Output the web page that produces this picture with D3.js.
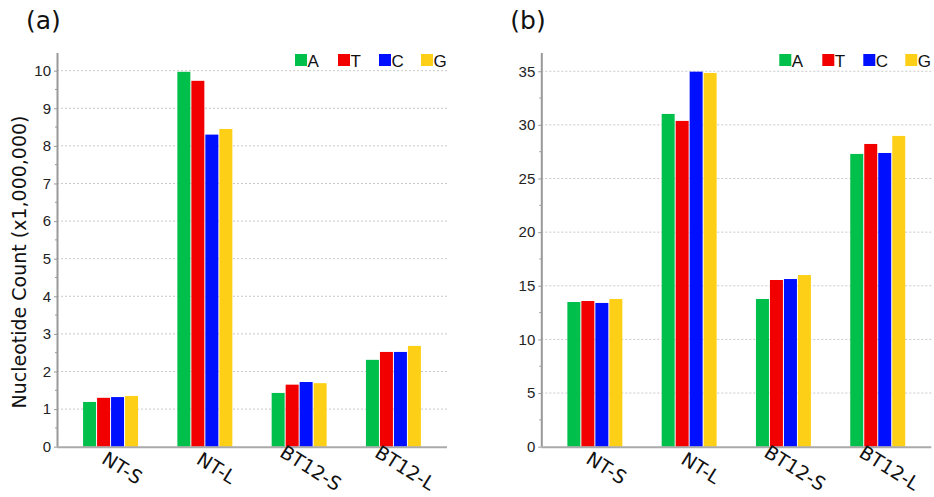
<!DOCTYPE html>
<html><head><meta charset="utf-8">
<script src="https://cdn.jsdelivr.net/npm/d3@7"></script>
<style>body{margin:0;background:#fff}</style>
</head><body>
<svg id="c" width="934" height="497"></svg>
<script>
const categories = ["NT-S", "NT-L", "BT12-S", "BT12-L"];
const nucleotides = ["A", "T", "C", "G"];
const colors = ["#00bf4b", "#f20000", "#0010ff", "#fdd017"];
// panel (a): counts x1,000,000
const aValsA = [1.19, 9.97, 1.43, 2.31];
const aValsT = [1.30, 9.73, 1.65, 2.52];
const aValsC = [1.32, 8.30, 1.72, 2.52];
const aValsG = [1.35, 8.45, 1.69, 2.68];
const aTicks = [0,1,2,3,4,5,6,7,8,9,10];
// panel (b)
const bValsA = [13.49, 31.02, 13.77, 27.29];
const bValsT = [13.58, 30.37, 15.54, 28.22];
const bValsC = [13.40, 34.96, 15.63, 27.38];
const bValsG = [13.77, 34.84, 16.00, 28.97];
const bTicks = [0,5,10,15,20,25,30,35];
const panelLabels = ["(a)", "(b)"];
const yTitle = "Nucleotide Count (x1,000,000)";

const svg = d3.select("#c");

function panel(x0, vals, ticks, minorStep, yMax, label, withTitle) {
  const W = 390, yBottom = 446.7, yTop = 53;
  const g = svg.append("g");
  const x = d3.scaleBand().domain(categories).range([x0, x0 + W]).paddingInner(0.417).paddingOuter(0.2765);
  const xs = d3.scaleBand().domain(nucleotides).range([0, x.bandwidth()]).paddingInner(1/14).paddingOuter(0);
  const y = d3.scaleLinear().domain([0, yMax]).range([yBottom, yTop]);

  // grid
  g.selectAll("line.grid").data(ticks.filter(t => t > 0)).join("line")
    .attr("x1", x0).attr("x2", x0 + W)
    .attr("y1", d => y(d)).attr("y2", d => y(d))
    .attr("stroke", "#c8c8c8").attr("stroke-width", 1).attr("stroke-dasharray", "2,2");

  // bars
  nucleotides.forEach((n, si) => {
    g.selectAll("rect.s" + si).data(vals[si]).join("rect")
      .attr("x", (d, i) => x(categories[i]) + xs(n))
      .attr("width", xs.bandwidth())
      .attr("y", d => y(d))
      .attr("height", d => yBottom - y(d))
      .attr("fill", colors[si]);
  });

  // minor ticks
  const minors = d3.range(minorStep, yMax, minorStep * 2);
  g.selectAll("line.minor").data(minors).join("line")
    .attr("x1", x0 - 2).attr("x2", x0).attr("y1", d => y(d)).attr("y2", d => y(d))
    .attr("stroke", "#999");

  // y axis
  const ya = d3.axisLeft(y).tickValues(ticks).tickSize(3).tickPadding(3).tickFormat(d3.format("d"));
  const yg = g.append("g").attr("transform", `translate(${x0},0)`).call(ya);
  yg.select(".domain").attr("stroke", "#999").attr("stroke-width", 2).attr("d", `M0.5,${yBottom}V${yTop}`);
  yg.selectAll(".tick line").attr("stroke", "#999");
  yg.selectAll(".tick text").attr("font-family", "Liberation Sans, Arial, sans-serif").attr("font-size", 15).attr("fill", "#222");

  // x axis baseline
  g.append("line").attr("x1", x0).attr("x2", x0 + W).attr("y1", yBottom + 0.5).attr("y2", yBottom + 0.5)
    .attr("stroke", "#aaa").attr("stroke-width", 2);

  // x labels
  g.selectAll("text.xl").data(categories).join("text")
    .attr("transform", d => `translate(${x(d) + x.bandwidth()/2 + 11},${469}) rotate(32)`)
    .attr("text-anchor", "middle").attr("dominant-baseline", "middle")
    .attr("font-family", "DejaVu Sans, sans-serif").attr("font-size", 19).attr("fill", "#111")
    .text(d => d);

  // legend
  const legX = [152, 109, 68, 26];
  nucleotides.forEach((n, i) => {
    const lx = x0 + W - legX[i];
    g.append("rect").attr("x", lx).attr("y", 54).attr("width", 12).attr("height", 12).attr("fill", colors[i]);
    g.append("text").attr("x", lx + 12.5).attr("y", 66.5)
      .attr("font-family", "Liberation Sans, Arial, sans-serif").attr("font-size", 17).attr("fill", "#111").text(n);
  });

  // panel label
  svg.append("text").attr("x", x0 - 31).attr("y", 28.5)
    .attr("font-family", "DejaVu Sans, sans-serif").attr("font-size", 25).attr("fill", "#111").text(label);

  if (withTitle) {
    svg.append("text").attr("transform", `translate(26,${262}) rotate(-90)`)
      .attr("text-anchor", "middle")
      .attr("font-family", "DejaVu Sans, sans-serif").attr("font-size", 19).attr("fill", "#111").text(yTitle);
  }
}

panel(57, [aValsA, aValsT, aValsC, aValsG], aTicks, 0.5, 10.47, panelLabels[0], true);
panel(541.3, [bValsA, bValsT, bValsC, bValsG], bTicks, 2.5, 36.7, panelLabels[1], false);
</script>
</body></html>
